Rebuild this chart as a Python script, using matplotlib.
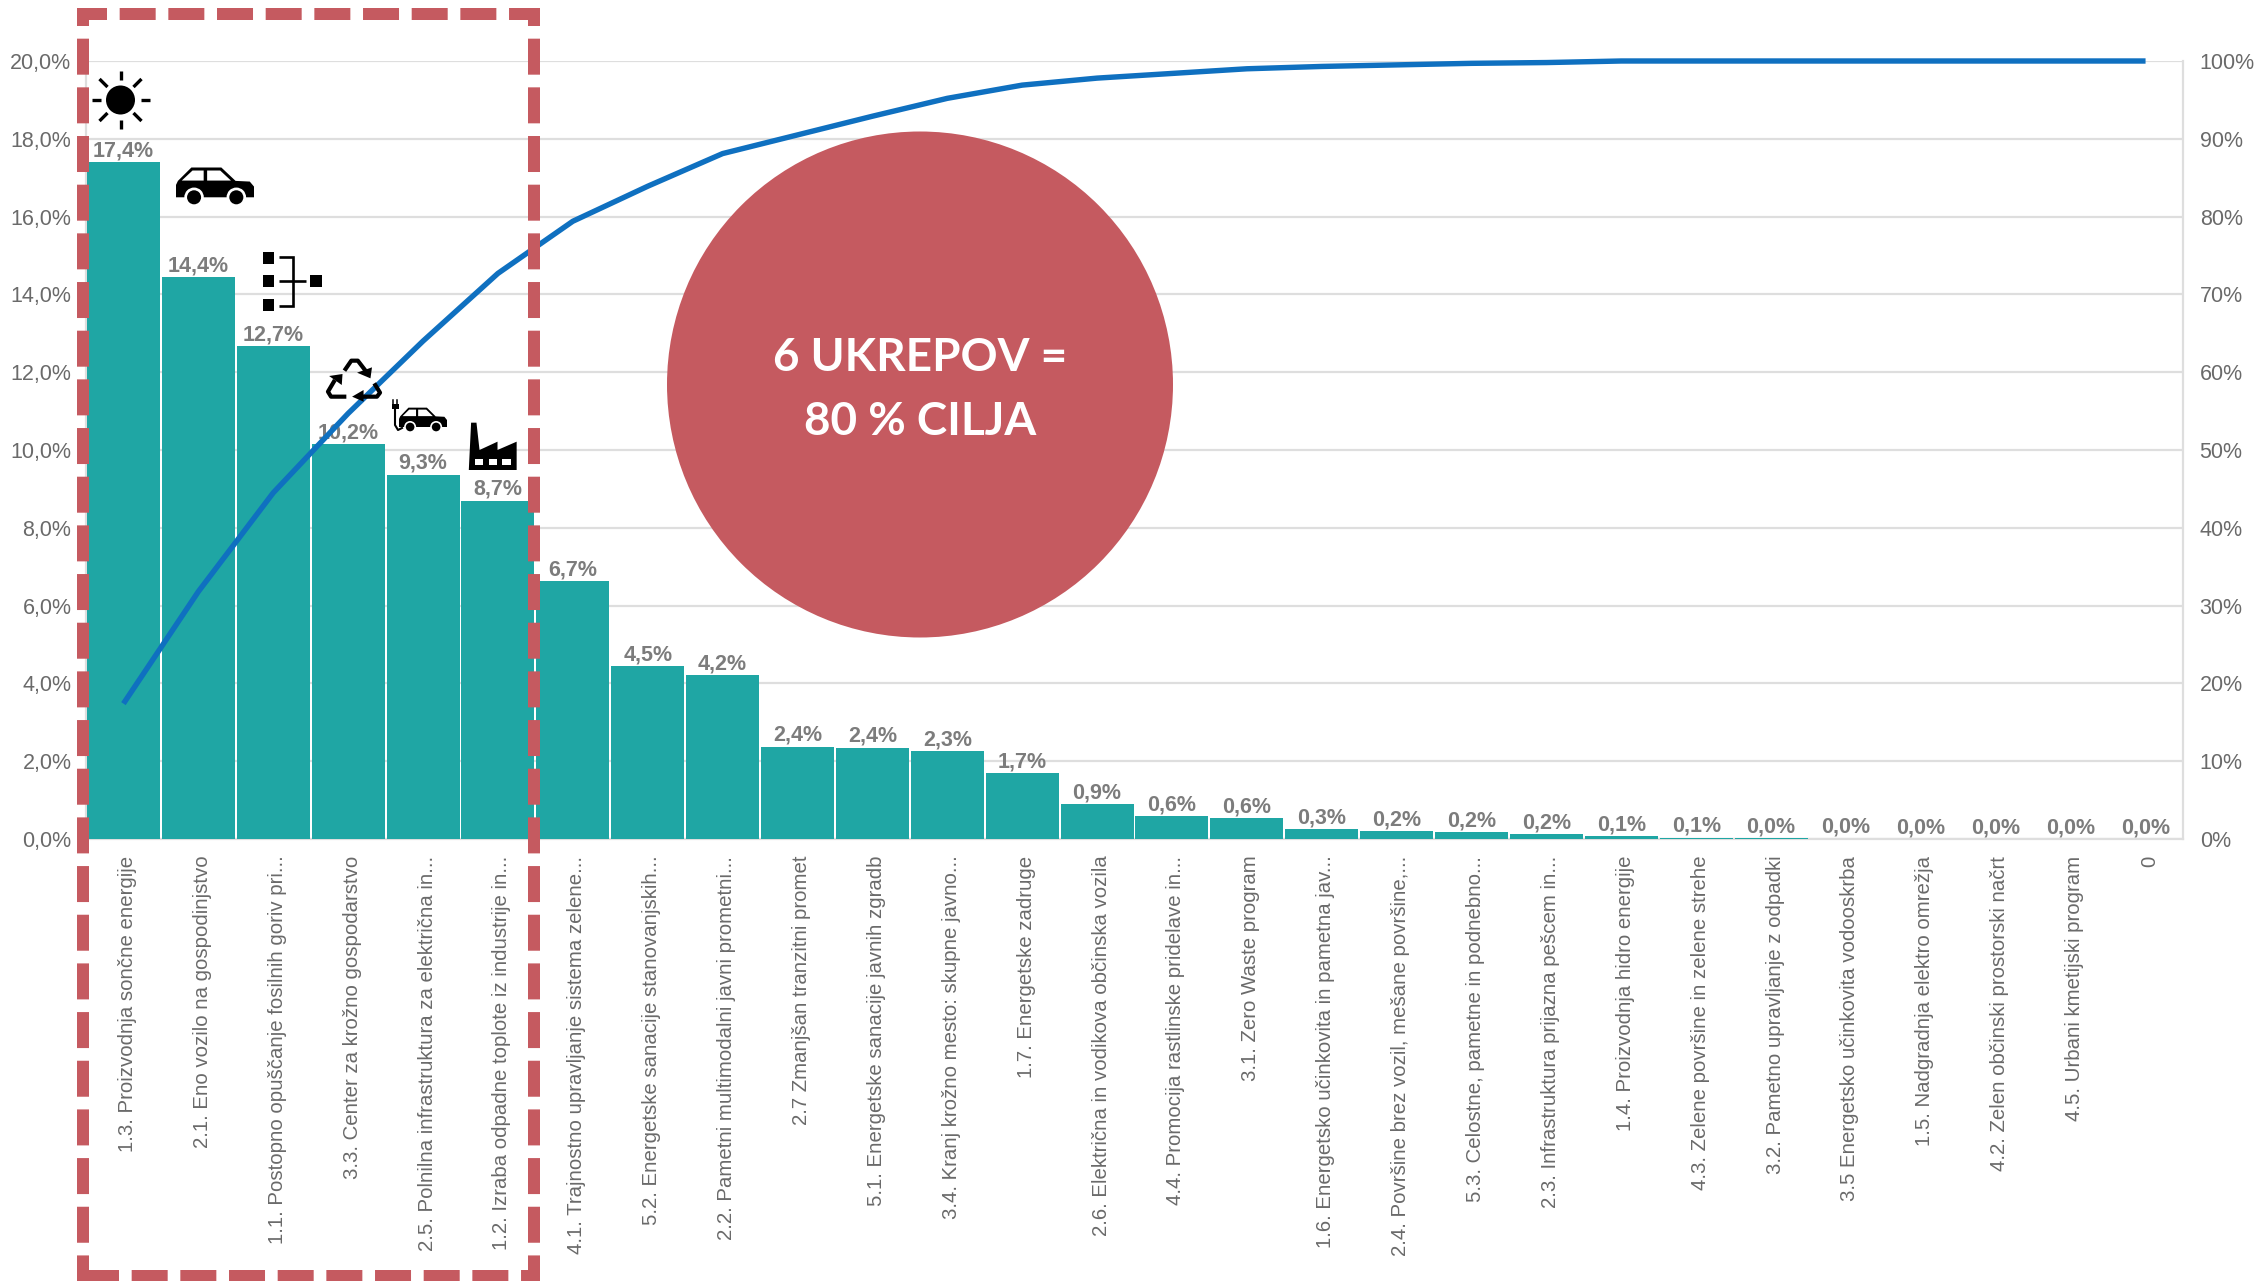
import matplotlib
matplotlib.use("Agg")
import matplotlib.pyplot as plt
from matplotlib.patches import Polygon, Circle, Rectangle
from matplotlib.lines import Line2D
from matplotlib.transforms import ScaledTranslation

plt.rcParams['font.family'] = ['Liberation Sans', 'DejaVu Sans']
plt.rcParams['lines.scale_dashes'] = False

categories = ["1.3. Proizvodnja sončne energije", "2.1. Eno vozilo na gospodinjstvo",
    "1.1. Postopno opuščanje fosilnih goriv pri...", "3.3. Center za krožno gospodarstvo",
    "2.5. Polnilna infrastruktura za električna in...", "1.2. Izraba odpadne toplote iz industrije in...",
    "4.1. Trajnostno upravljanje sistema zelene...", "5.2. Energetske sanacije stanovanjskih...",
    "2.2. Pametni multimodalni javni prometni...", "2.7 Zmanjšan tranzitni promet",
    "5.1. Energetske sanacije javnih zgradb", "3.4. Kranj krožno mesto: skupne javno...",
    "1.7. Energetske zadruge", "2.6. Električna in vodikova občinska vozila",
    "4.4. Promocija rastlinske pridelave in...", "3.1. Zero Waste program",
    "1.6. Energetsko učinkovita in pametna jav...", "2.4. Površine brez vozil, mešane površine,...",
    "5.3. Celostne, pametne in podnebno...", "2.3. Infrastruktura prijazna pešcem in...",
    "1.4. Proizvodnja hidro energije", "4.3. Zelene površine in zelene strehe",
    "3.2. Pametno upravljanje z odpadki", "3.5 Energetsko učinkovita vodooskrba",
    "1.5. Nadgradnja elektro omrežja", "4.2. Zelen občinski prostorski načrt",
    "4.5. Urbani kmetijski program", "0"]
shares = [17.4, 14.44, 12.67, 10.15, 9.37, 8.7, 6.63, 4.44, 4.22, 2.37, 2.35, 2.26, 1.7, 0.89, 0.58, 0.53,
          0.25, 0.2, 0.17, 0.13, 0.07, 0.03, 0.02, 0.01, 0.0, 0.0, 0.0, 0.0]
share_labels = ["17,4%", "14,4%", "12,7%", "10,2%", "9,3%", "8,7%", "6,7%", "4,5%", "4,2%", "2,4%",
                "2,4%", "2,3%", "1,7%", "0,9%", "0,6%", "0,6%", "0,3%", "0,2%", "0,2%", "0,2%",
                "0,1%", "0,1%", "0,0%", "0,0%", "0,0%", "0,0%", "0,0%", "0,0%"]
cumulative = [17.4, 31.8, 44.5, 54.7, 64.0, 72.7, 79.4, 83.9, 88.1, 90.5, 92.9, 95.2, 96.9, 97.8,
              98.4, 99.0, 99.3, 99.5, 99.7, 99.8, 100, 100, 100, 100, 100, 100, 100, 100]
left_ticks = [0, 2, 4, 6, 8, 10, 12, 14, 16, 18, 20]
left_tick_labels = ["0,0%", "2,0%", "4,0%", "6,0%", "8,0%", "10,0%", "12,0%", "14,0%", "16,0%", "18,0%", "20,0%"]
right_ticks = [0, 10, 20, 30, 40, 50, 60, 70, 80, 90, 100]
right_tick_labels = ["0%", "10%", "20%", "30%", "40%", "50%", "60%", "70%", "80%", "90%", "100%"]

W, H = 2258, 1281
TEAL, BLUE, RED = '#1FA6A4', '#0F70C0', '#C55A60'
GRID = '#DEDEDE'
TXT = '#6A6A6A'
fig = plt.figure(figsize=(W / 100, H / 100), dpi=100, facecolor='white')
L, R, T, B = 86, 2183, 61, 839
ax = fig.add_axes([L / W, 1 - B / H, (R - L) / W, (B - T) / H])
xs = list(range(len(categories)))
ax.bar(xs, shares, width=0.975, color=TEAL, zorder=3)
ax.set_xlim(-0.5, len(categories) - 0.5)
ax.set_ylim(0, 20)
ax.set_yticks(left_ticks, left_tick_labels, fontsize=15.5, color=TXT)
ax.set_xticks(xs, categories, rotation=90, fontsize=14.7, color=TXT, ha='center', va='top')
ax.tick_params(axis='both', length=0)
ax.tick_params(axis='y', pad=10.5)
ax.tick_params(axis='x', pad=12)
shift = ScaledTranslation(4 / 100, 0, fig.dpi_scale_trans)
for lab in ax.get_xticklabels():
    lab.set_transform(lab.get_transform() + shift)
ax.grid(axis='y', color=GRID, lw=1.6, zorder=0)
ax.set_axisbelow(True)
for s in ax.spines.values():
    s.set_color(GRID)
    s.set_linewidth(1.6)
ax.spines['top'].set_visible(False)
for x, v, t in zip(xs, shares, share_labels):
    ax.annotate(t, (x, v), xytext=(0, 0.6), textcoords='offset points', ha='center', va='bottom',
                fontsize=15.5, fontweight='bold', color='#7C7C7C', zorder=5)

ax2 = ax.twinx()
ax2.set_ylim(0, 100)
ax2.set_yticks(right_ticks, right_tick_labels, fontsize=15.5, color=TXT)
ax2.tick_params(axis='y', length=0, pad=12)
for s in ax2.spines.values():
    s.set_visible(False)
ax2.plot(xs, cumulative, color=BLUE, lw=3.9, solid_joinstyle='round', solid_capstyle='butt', clip_on=False)

# overlay in pixel coordinates
ov = fig.add_axes([0, 0, 1, 1], facecolor='none')
ov.set_xlim(0, W)
ov.set_ylim(H, 0)
ov.axis('off')

# circle callout
ov.add_patch(Circle((920, 384.5), 253, color=RED, lw=0, zorder=2))
ov.text(920, 390, "6 UKREPOV =\n80 % CILJA", color='white', fontsize=33, fontweight='bold',
        family=['Lato', 'DejaVu Sans'], ha='center', va='center', linespacing=1.62, zorder=3)

# dashed frame
on, off = 36 * 0.72, 12.67 * 0.72
lw_frame = 12 * 0.72
def side(x0, y0, x1, y1, first_end):
    """dash pattern starting so that the first piece is first_end px long"""
    offset = (36 - first_end) * 0.72
    ov.add_line(Line2D([x0, x1], [y0, y1], color=RED, lw=lw_frame, zorder=6,
                       linestyle=(offset, (on, off)), dash_capstyle='butt'))
side(77, 14, 540, 14, 30)
side(83, 8, 83, 1281, 18)
side(534, 8, 534, 1281, 18)
side(77, 1275.5, 540, 1275.5, 42)

# icons
K = 'black'
def zx(v): return v / 2.613
def zy(v): return v / 3
def poly(pts, color=K, z=4):
    ov.add_patch(Polygon(pts, closed=True, color=color, lw=0, zorder=z))

# sun
cx, cy = 120.5, 100
ov.add_patch(Circle((cx, cy), 14.5, color=K, lw=0, zorder=4))
for a, b in [((-29, 0), (-20, 0)), ((20, 0), (29, 0)), ((0, -29), (0, -20)), ((0, 20), (0, 29)),
             ((-21, -21), (-13, -13)), ((13, 13), (21, 21)), ((-21, 21), (-13, 13)), ((13, -13), (21, -21))]:
    ov.plot([cx + a[0], cx + b[0]], [cy + a[1], cy + b[1]], color=K, lw=2.4, solid_capstyle='butt', zorder=4)

def car(x0, y0, w, h):
    fx = lambda v: x0 + (v - 460) / 203 * w
    fy = lambda v: y0 + (v - 500) / 115 * h
    poly([(fx(a), fy(b)) for a, b in [(460, 555), (465, 543), (500, 503), (578, 503), (615, 543),
                                      (652, 545), (663, 560), (663, 592), (460, 592)]])
    poly([(fx(a), fy(b)) for a, b in [(475, 542), (503, 512), (532, 512), (532, 542)]], 'white', 5)
    poly([(fx(a), fy(b)) for a, b in [(541, 512), (575, 512), (603, 542), (541, 542)]], 'white', 5)
    for c in (507, 617):
        ov.add_patch(Circle((fx(c), fy(592)), w * 0.125, color='white', lw=0, zorder=5))
        ov.add_patch(Circle((fx(c), fy(592)), w * 0.09, color=K, lw=0, zorder=6))
car(176, 166.5, 78, 38.5)

# network
for x0, y0 in [(262.5, 252), (262.5, 275), (262.5, 299), (310, 275)]:
    ov.add_patch(Rectangle((x0, y0), 11.5, 11.5, color=K, lw=0, zorder=4))
ov.plot([278.6, 293, 293, 278.6], [257, 257, 305.7, 305.7], color=K, lw=1.9, zorder=4, solid_joinstyle='miter', solid_capstyle='butt')
ov.plot([278.6, 306], [281, 281], color=K, lw=1.9, zorder=4, solid_capstyle='butt')

# recycle
def seg(pts, head):
    ov.plot([zx(a) for a, b in pts], [zy(b) for a, b in pts], color=K, lw=3.0, zorder=4,
            solid_joinstyle='round', solid_capstyle='butt')
    poly([(zx(a), zy(b)) for a, b in head])
seg([(900, 1112), (918, 1082), (935, 1082), (957, 1115)], [(933, 1118), (972, 1102), (968, 1135)])
seg([(978, 1150), (993, 1178), (985, 1190), (945, 1190)], [(950, 1170), (920, 1190), (950, 1205)])
seg([(905, 1190), (865, 1190), (857, 1175), (875, 1140)], [(860, 1128), (895, 1122), (893, 1155)])

# EV car
car(399, 407, 48, 25)
ov.plot([395, 395, 398, 402], [406, 425, 430, 428], color=K, lw=1.5, zorder=4)
ov.add_patch(Rectangle((391.5, 403.5), 7, 5, color=K, lw=0, zorder=4))
ov.plot([393, 393], [400, 404], color=K, lw=1.1, zorder=4)
ov.plot([397, 397], [400, 404], color=K, lw=1.1, zorder=4)

# factory
poly([(zx(a), zy(b)) for a, b in [(1225, 1410), (1231, 1268), (1245, 1268), (1253, 1350), (1300, 1325),
      (1300, 1350), (1350, 1325), (1350, 1410)]])
for a in (1240, 1277, 1313):
    ov.add_patch(Rectangle((zx(a), zy(1378)), zx(22), zy(18), color='white', lw=0, zorder=5))

fig.savefig('out.png', dpi=100, facecolor='white')
